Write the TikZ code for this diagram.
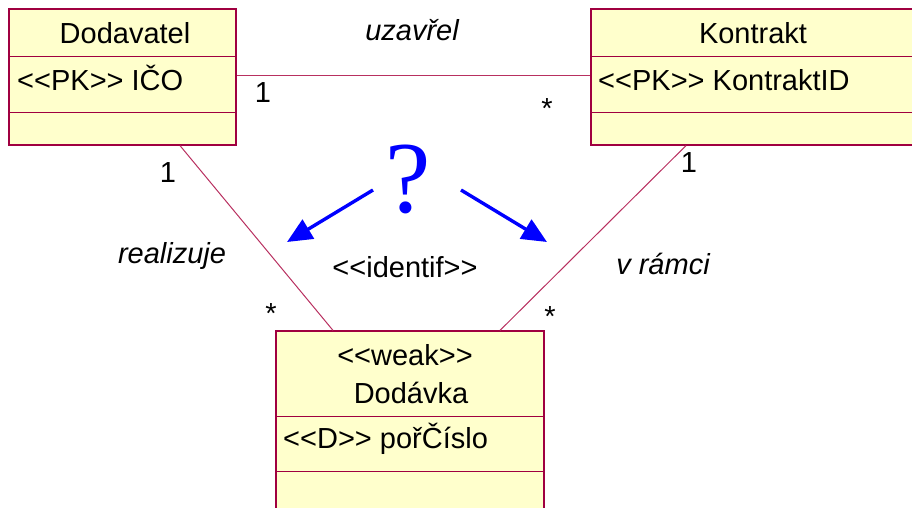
\documentclass[tikz,border=0pt]{standalone}
\usepackage{fontspec}
\setmainfont{Liberation Sans}
\newfontfamily\qfont{Liberation Serif}
\usetikzlibrary{arrows.meta}
\definecolor{boxfill}{HTML}{FFFFCC}
\definecolor{boxline}{HTML}{A00040}
\definecolor{connline}{HTML}{B83060}
\definecolor{arrblue}{HTML}{0000FF}
\begin{document}
\begin{tikzpicture}[x=1pt,y=-1pt,
 cls/.style={draw=boxline, fill=boxfill, line width=1.2pt, inner sep=0pt, rectangle},
 txt/.style={inner sep=0pt, anchor=base, font=\fontsize{29}{34}\selectfont},
 ltxt/.style={txt, anchor=base west},
 itxt/.style={txt, font=\fontsize{29}{34}\selectfont\itshape},
 conn/.style={draw=connline, line width=1pt},
 divline/.style={draw=boxline, line width=1.2pt},
 harrow/.style={draw=arrblue, line width=3.4pt, -{Triangle[length=25pt,width=22pt]}}]
\useasboundingbox (0,0) rectangle (912,507);
\clip (0,0) rectangle (912,507);

% class boxes
\node[cls, minimum width=227pt, minimum height=136pt] (dod) at (122.5,77) {};
\node[cls, minimum width=344pt, minimum height=136pt] (kon) at (763,77) {};
\node[cls, minimum width=268pt, minimum height=188pt] (dkv) at (410,425) {};

% compartments
\draw[divline] ([yshift=-48pt]dod.north west) -- ([yshift=-48pt]dod.north east);
\draw[divline] ([yshift=-104pt]dod.north west) -- ([yshift=-104pt]dod.north east);
\draw[divline] ([yshift=-48pt]kon.north west) -- ([yshift=-48pt]kon.north east);
\draw[divline] ([yshift=-104pt]kon.north west) -- ([yshift=-104pt]kon.north east);
\draw[divline] ([yshift=-86pt]dkv.north west) -- ([yshift=-86pt]dkv.north east);
\draw[divline] ([yshift=-141pt]dkv.north west) -- ([yshift=-141pt]dkv.north east);

% box texts
\node[txt] (dodname) at (125,43) {Dodavatel};
\node[ltxt] (dodpk) at (17,90) {<{}<PK>{}> IČO};
\node[txt] (konname) at (753,43) {Kontrakt};
\node[ltxt] (konpk) at (598,90) {<{}<PK>{}> KontraktID};
\node[txt] (dkvst) at (405,365) {<{}<weak>{}>};
\node[txt] (dkvname) at (411,403) {Dodávka};
\node[ltxt] (dkvd) at (283,448) {<{}<D>{}> pořČíslo};

% connectors
\draw[conn] ([yshift=1.3pt]dod.east) -- ([yshift=1.3pt]kon.west);
\draw[conn] ([xshift=57.5pt]dod.south) -- ([xshift=-77pt]dkv.north);
\draw[conn] ([xshift=-77pt]kon.south) -- ([xshift=90pt]dkv.north);

% connector labels
\node[itxt] (uz) at (412,40) {uzavřel};
\node[itxt] (re) at (172,263) {realizuje};
\node[itxt] (vr) at (663,274) {v rámci};
\node[txt] (idf) at (405,277) {<{}<identif>{}>};

% multiplicities
\node[txt] (m1) at (263,102) {1};
\node[txt] (m2) at (547,118) {*};
\node[txt] (m3) at (168,182) {1};
\node[txt] (m4) at (271,323) {*};
\node[txt] (m5) at (689,172) {1};
\node[txt] (m6) at (550,326) {*};

% question mark and arrows
\node[inner sep=0pt, anchor=base, text=arrblue, font=\qfont\fontsize{102}{102}\selectfont] (q) at (408,212) {?};
\coordinate (la) at (373,190);
\coordinate (lb) at (287,242);
\coordinate (ra) at (461,190);
\coordinate (rb) at (547,242);
\draw[harrow] (la) -- (lb);
\draw[harrow] (ra) -- (rb);
\end{tikzpicture}
\end{document}
